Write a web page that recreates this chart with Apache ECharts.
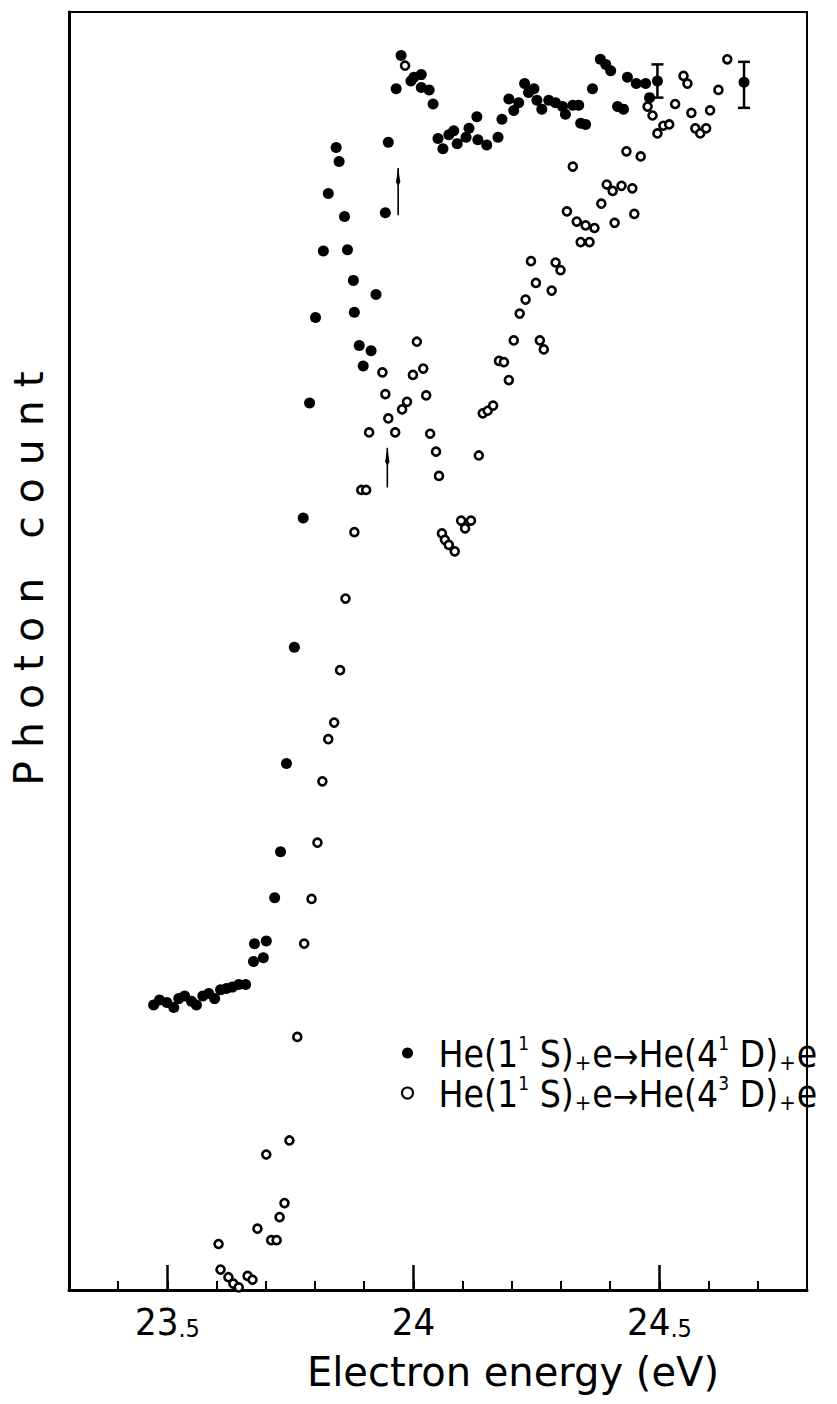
<!DOCTYPE html>
<html>
<head>
<meta charset="utf-8">
<script src="https://cdn.jsdelivr.net/npm/echarts@6/dist/echarts.min.js"></script>
<style>
  html, body { margin: 0; background: #fff; }
  #chart { width: 837px; height: 1404px; }
  /* the y axis title in the original is set with wide letter spacing */
  #chart text[style*="41px"] { letter-spacing: 13px; }
</style>
</head>
<body>
<div id="chart"></div>
<script>
// He(1¹S)+e -> He(4¹D)+e  (filled dots)  [energy eV, photon count arb.]
var singletPoints = [
  [23.472, 22.3], [23.484, 22.7], [23.499, 22.5], [23.513, 22.1], [23.523, 22.8], [23.535, 23.0],
  [23.549, 22.6], [23.559, 22.3], [23.572, 23.0], [23.584, 23.2], [23.596, 22.8], [23.608, 23.5],
  [23.620, 23.6], [23.632, 23.7], [23.645, 23.9], [23.659, 23.9],
  [23.675, 25.7], [23.695, 26.0], [23.677, 27.1], [23.701, 27.3], [23.718, 30.7], [23.730, 34.3],
  [23.742, 41.2], [23.758, 50.3], [23.776, 60.4], [23.789, 69.4], [23.801, 76.1], [23.817, 81.3],
  [23.827, 85.8], [23.843, 89.4], [23.849, 88.3], [23.860, 84.0], [23.866, 81.4], [23.878, 79.0],
  [23.880, 76.5], [23.890, 73.9], [23.898, 72.3], [23.914, 73.5], [23.924, 77.9], [23.943, 84.3],
  [23.949, 89.8], [23.965, 94.0], [23.975, 96.6], [23.995, 94.6], [24.001, 94.9], [24.016, 95.1],
  [24.016, 94.1], [24.032, 93.9], [24.040, 92.8], [24.050, 90.1], [24.060, 89.3], [24.072, 90.4],
  [24.082, 90.7], [24.089, 89.7], [24.107, 90.2], [24.113, 90.9], [24.129, 91.8], [24.131, 90.0],
  [24.149, 89.6], [24.172, 90.2], [24.180, 91.6], [24.194, 93.2], [24.204, 92.3], [24.214, 92.9],
  [24.226, 94.4], [24.234, 93.7], [24.245, 94.0], [24.251, 93.1], [24.261, 92.4], [24.275, 93.1],
  [24.289, 92.9], [24.303, 92.6], [24.309, 92.0], [24.324, 92.7], [24.336, 92.7], [24.340, 91.3],
  [24.350, 91.2], [24.364, 94.0], [24.380, 96.3], [24.391, 95.9], [24.401, 95.4], [24.415, 92.6],
  [24.427, 92.4], [24.435, 94.9], [24.453, 94.4], [24.472, 94.4], [24.480, 93.3], [24.496, 94.6],
  [24.672, 94.5]
];

// He(1¹S)+e -> He(4³D)+e  (open circles)
var tripletPoints = [
  [23.983, 95.8], [24.324, 87.9], [24.433, 89.1], [24.462, 88.7], [24.476, 92.6], [24.486, 91.9],
  [24.549, 95.0], [24.557, 94.4], [24.532, 92.8], [24.565, 92.1], [24.638, 96.3], [24.620, 93.9],
  [24.603, 92.3], [24.496, 90.5], [24.508, 91.1], [24.520, 91.2], [24.573, 90.9], [24.583, 90.5],
  [24.595, 90.9], [24.393, 86.5], [24.405, 86.0], [24.423, 86.4], [24.445, 86.2], [24.382, 85.0],
  [24.449, 84.2], [24.409, 83.5], [24.312, 84.4], [24.332, 83.6], [24.350, 83.3], [24.368, 83.1],
  [24.340, 82.0], [24.358, 82.0], [24.239, 80.5], [24.289, 80.4], [24.299, 79.8], [24.249, 78.8],
  [24.281, 78.2], [24.228, 77.5], [24.216, 76.4], [24.204, 74.3], [24.257, 74.3], [24.265, 73.6],
  [24.174, 72.7], [24.184, 72.6], [24.194, 71.2], [24.141, 68.6], [24.151, 68.8], [24.162, 69.2],
  [24.133, 65.3], [24.007, 74.2], [23.937, 71.8], [23.999, 71.6], [24.020, 72.1], [23.943, 70.1],
  [24.026, 70.0], [23.987, 69.5], [23.977, 68.9], [23.949, 68.2], [23.910, 67.1], [23.963, 67.1],
  [24.034, 67.0], [24.046, 65.6], [24.052, 63.7], [23.894, 62.6], [23.904, 62.6], [23.880, 59.3],
  [24.058, 59.2], [24.064, 58.7], [24.072, 58.3], [24.084, 57.8], [24.097, 60.2], [24.105, 59.6],
  [24.117, 60.2], [23.862, 54.1], [23.851, 48.5], [23.839, 44.4], [23.827, 43.1], [23.815, 39.8],
  [23.805, 35.0], [23.793, 30.6], [23.778, 27.1], [23.764, 19.8], [23.748, 11.7], [23.701, 10.6],
  [23.738, 6.8], [23.728, 5.7], [23.683, 4.8], [23.711, 3.9], [23.722, 3.9], [23.604, 3.6],
  [23.608, 1.6], [23.624, 1.0], [23.634, 0.5], [23.645, 0.2], [23.663, 1.1], [23.673, 0.8]
];

// error bars: energy, low, high
var errX = [24.496, 24.672];
var errLow = [93.3, 92.5];
var errHigh = [95.9, 96.1];

// threshold arrows: energy, from, to
var arrowX = [23.969, 23.947];
var arrowFrom = [84.1, 62.8];
var arrowTo = [87.8, 65.9];

var seriesNames = ["He(1¹S)+e→He(4¹D)+e", "He(1¹S)+e→He(4³D)+e"];
var legendRich = [
  "{m|He(1}{u|1}{m| S)}{p|+}{m|e}{a|→}{m|He(4}{u|1}{m| D)}{p|+}{m|e}",
  "{m|He(1}{u|1}{m| S)}{p|+}{m|e}{a|→}{m|He(4}{u|3}{m| D)}{p|+}{m|e}"
];

var xMin = 23.3, xMax = 24.8, xStep = 0.1;
var majorTicks = [23.5, 24, 24.5];

var FONT = "'DejaVu Sans Condensed', 'DejaVu Sans', sans-serif";

var chart = echarts.init(document.getElementById("chart"), null, { renderer: "svg" });

chart.setOption({
  animation: false,
  backgroundColor: "#fff",
  grid: {
    left: 67, right: 30, top: 12, bottom: 114,
    show: true, borderColor: "#000", borderWidth: 2
  },
  legend: {
    orient: "vertical",
    left: 396, top: 1028,
    itemWidth: 52, itemHeight: 11, itemGap: 0,
    selectedMode: false,
    data: seriesNames,
    formatter: function (name) {
      return legendRich[seriesNames.indexOf(name)];
    },
    textStyle: {
      lineHeight: 40,
      rich: {
        m: { fontSize: 37, fontFamily: FONT, color: "#000", lineHeight: 40, verticalAlign: "bottom" },
        u: { fontSize: 19, fontFamily: FONT, color: "#000", lineHeight: 40, verticalAlign: "top" },
        p: { fontSize: 22, fontFamily: FONT, color: "#000", lineHeight: 34, verticalAlign: "bottom", padding: [0, 1, 0, 1] },
        a: { fontSize: 34, fontFamily: FONT, color: "#000", lineHeight: 40, verticalAlign: "bottom" }
      }
    }
  },
  xAxis: [
    {
      type: "value", min: xMin, max: xMax, interval: xStep,
      name: "Electron energy (eV)", nameLocation: "middle", nameGap: 62,
      nameTextStyle: { fontSize: 40, fontFamily: "'DejaVu Sans', sans-serif", color: "#000", padding: [0, 0, 0, 150] },
      axisLine: { show: true, lineStyle: { color: "#000", width: 3 } },
      axisTick: { show: true, inside: true, length: 9, lineStyle: { color: "#000", width: 2 } },
      axisLabel: { show: false },
      splitLine: { show: false }
    },
    {
      type: "value", min: xMin, max: xMax, position: "bottom",
      axisLine: { show: false },
      axisTick: { show: true, inside: true, length: 25, customValues: majorTicks, lineStyle: { color: "#000", width: 2.5 } },
      axisLabel: {
        show: true, margin: 11, customValues: majorTicks,
        formatter: function (v) {
          var s = (Math.round(v * 10) / 10).toString().split(".");
          return s.length > 1 ? "{b|" + s[0] + "}{s|." + s[1] + "}" : "{b|" + s[0] + "}";
        },
        rich: {
          b: { fontSize: 38, fontFamily: FONT, color: "#000", lineHeight: 40, verticalAlign: "bottom" },
          s: { fontSize: 25, fontFamily: FONT, color: "#000", lineHeight: 29, verticalAlign: "bottom" }
        }
      },
      splitLine: { show: false }
    }
  ],
  yAxis: {
    type: "value", min: 0, max: 100,
    name: "Photon count", nameLocation: "middle", nameGap: 20,
    nameTextStyle: { fontSize: 41, fontFamily: "'DejaVu Sans', sans-serif", color: "#000", padding: [0, 0, 0, 158] },
    axisLine: { show: true, lineStyle: { color: "#000", width: 3 } },
    axisTick: { show: false },
    axisLabel: { show: false },
    splitLine: { show: false }
  },
  series: [
    {
      name: seriesNames[0], type: "scatter", data: singletPoints,
      symbol: "circle", symbolSize: 11,
      itemStyle: { color: "#000", opacity: 1 }
    },
    {
      name: seriesNames[1], type: "scatter", data: tripletPoints,
      symbol: "circle", symbolSize: 8,
      itemStyle: { color: "#fff", borderColor: "#000", borderWidth: 2.6, opacity: 1 }
    },
    {
      type: "custom", silent: true,
      data: errX.map(function (x, i) { return [x, errLow[i], errHigh[i]]; }),
      encode: { x: 0, y: [1, 2] },
      renderItem: function (params, api) {
        var lo = api.coord([api.value(0), api.value(1)]);
        var hi = api.coord([api.value(0), api.value(2)]);
        var w = 6, st = { stroke: "#000", lineWidth: 2.5 };
        return {
          type: "group",
          children: [
            { type: "line", shape: { x1: lo[0], y1: lo[1], x2: hi[0], y2: hi[1] }, style: st },
            { type: "line", shape: { x1: lo[0] - w, y1: lo[1], x2: lo[0] + w, y2: lo[1] }, style: st },
            { type: "line", shape: { x1: hi[0] - w, y1: hi[1], x2: hi[0] + w, y2: hi[1] }, style: st }
          ]
        };
      }
    },
    {
      type: "custom", silent: true,
      data: arrowX.map(function (x, i) { return [x, arrowFrom[i], arrowTo[i]]; }),
      encode: { x: 0, y: [1, 2] },
      renderItem: function (params, api) {
        var a = api.coord([api.value(0), api.value(1)]);
        var b = api.coord([api.value(0), api.value(2)]);
        return {
          type: "group",
          children: [
            { type: "line", shape: { x1: a[0], y1: a[1], x2: b[0], y2: b[1] }, style: { stroke: "#000", lineWidth: 1.6 } },
            { type: "polygon", shape: { points: [[b[0], b[1]], [b[0] + 2.2, b[1] + 14], [b[0], b[1] + 18], [b[0] - 2.2, b[1] + 14]] }, style: { fill: "#000" } }
          ]
        };
      }
    }
  ]
});
</script>
</body>
</html>
